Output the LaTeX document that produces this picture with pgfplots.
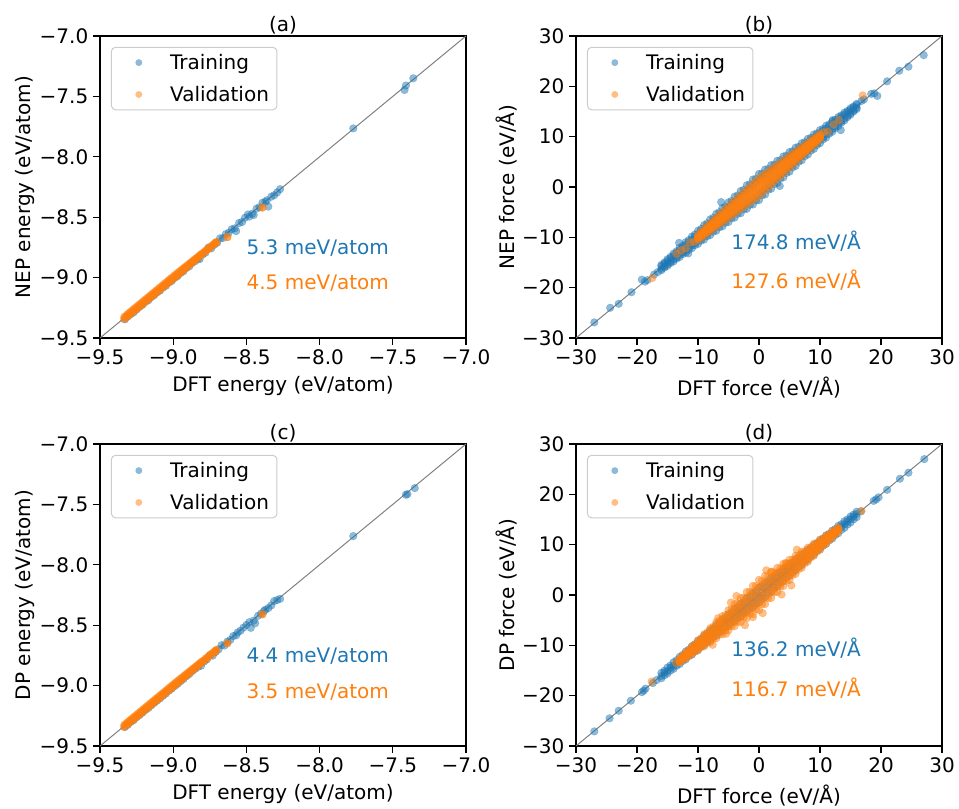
\documentclass[border=0pt]{standalone}
\usepackage{fontspec}
\setmainfont{DejaVu Sans}
\usepackage{pgfplots}
\usepackage{pgfplotstable}
\pgfplotsset{compat=1.18}
\definecolor{tabblue}{RGB}{31,119,180}
\definecolor{taborange}{RGB}{255,127,14}
\newcommand{\ff}{\fontsize{15}{18}\selectfont}

% ---------- Energy (a): training ----------
\pgfplotstableread{
x y
-9.33 -9.345
-9.31 -9.322
-9.29 -9.302
-9.27 -9.288
-9.25 -9.264
-9.23 -9.242
-9.21 -9.226
-9.19 -9.200
-9.17 -9.188
-9.15 -9.162
-9.13 -9.146
-9.11 -9.122
-9.09 -9.108
-9.07 -9.082
-9.05 -9.068
-9.03 -9.040
-9.01 -9.028
-8.99 -9.002
-8.97 -8.988
-8.95 -8.962
-8.93 -8.948
-8.91 -8.920
-8.89 -8.907
-8.87 -8.878
-8.85 -8.864
-8.83 -8.842
-8.82 -8.848
-8.80 -8.810
-8.78 -8.794
-8.76 -8.752
-8.74 -8.758
-8.72 -8.728
-8.70 -8.712
-8.68 -8.675
-8.66 -8.672
-8.64 -8.640
-8.62 -8.628
-8.60 -8.600
-8.58 -8.592
-8.57 -8.615
-8.55 -8.548
-8.53 -8.540
-8.51 -8.505
-8.49 -8.478
-8.48 -8.495
-8.46 -8.470
-8.45 -8.482
-8.43 -8.428
-8.41 -8.418
-8.39 -8.380
-8.37 -8.372
-8.36 -8.360
-8.35 -8.412
-8.33 -8.330
-8.31 -8.318
-8.29 -8.295
-8.27 -8.268
-7.77 -7.765
-7.42 -7.447
-7.41 -7.410
-7.36 -7.350
}\EaTrain

% ---------- Energy (a): validation (rows of points) ----------
\pgfplotstableread{
x y1 y2
-9.335 -9.326 -9.344
-9.325 -9.318 -9.335
-9.315 -9.306 -9.324
-9.305 -9.298 -9.315
-9.295 -9.286 -9.304
-9.285 -9.278 -9.295
-9.275 -9.266 -9.284
-9.265 -9.258 -9.275
-9.255 -9.246 -9.264
-9.245 -9.238 -9.255
-9.235 -9.226 -9.244
-9.225 -9.218 -9.235
-9.215 -9.206 -9.224
-9.205 -9.198 -9.215
-9.195 -9.186 -9.204
-9.185 -9.178 -9.195
-9.175 -9.166 -9.184
-9.165 -9.158 -9.175
-9.155 -9.146 -9.164
-9.145 -9.138 -9.155
-9.135 -9.126 -9.144
-9.125 -9.118 -9.135
-9.115 -9.106 -9.124
-9.105 -9.098 -9.115
-9.095 -9.086 -9.104
-9.085 -9.078 -9.095
-9.075 -9.066 -9.084
-9.065 -9.058 -9.075
-9.055 -9.046 -9.064
-9.045 -9.038 -9.055
-9.035 -9.026 -9.044
-9.025 -9.018 -9.035
-9.015 -9.006 -9.024
-9.005 -8.998 -9.015
-8.995 -8.986 -9.004
-8.985 -8.978 -8.995
-8.975 -8.966 -8.984
-8.965 -8.958 -8.975
-8.955 -8.947 -8.964
-8.945 -8.939 -8.954
-8.935 -8.928 -8.943
-8.925 -8.919 -8.933
-8.915 -8.909 -8.922
-8.905 -8.900 -8.912
-8.895 -8.890 -8.901
-8.885 -8.880 -8.891
-8.875 -8.871 -8.880
-8.865 -8.861 -8.870
-8.855 -8.851 -8.860
-8.845 -8.842 -8.849
-8.835 -8.832 -8.839
-8.825 -8.822 -8.829
-8.815 -8.812 -8.819
-8.805 -8.802 -8.809
-8.790 -8.788 -8.794
-8.775 -8.773 -8.778
-8.760 -8.758 -8.764
-8.745 -8.743 -8.749
-8.730 -8.729 -8.734
-8.715 -8.713 -8.719
-8.705 -8.704 -8.709
-8.630 -8.665 -8.665
-8.390 -8.420 -8.420
}\EaVal

% ---------- Energy (c): training ----------
\pgfplotstableread{
x y
-9.33 -9.343
-9.31 -9.324
-9.29 -9.300
-9.27 -9.286
-9.25 -9.262
-9.23 -9.244
-9.21 -9.224
-9.19 -9.202
-9.17 -9.186
-9.15 -9.164
-9.13 -9.144
-9.11 -9.124
-9.09 -9.106
-9.07 -9.084
-9.05 -9.066
-9.03 -9.042
-9.01 -9.026
-8.99 -9.004
-8.97 -8.986
-8.95 -8.964
-8.93 -8.946
-8.91 -8.922
-8.89 -8.905
-8.87 -8.880
-8.85 -8.862
-8.83 -8.844
-8.81 -8.836
-8.79 -8.802
-8.77 -8.784
-8.75 -8.748
-8.73 -8.752
-8.71 -8.722
-8.69 -8.700
-8.67 -8.665
-8.65 -8.668
-8.63 -8.636
-8.61 -8.622
-8.59 -8.590
-8.57 -8.584
-8.56 -8.560
-8.54 -8.546
-8.52 -8.520
-8.50 -8.498
-8.48 -8.475
-8.47 -8.522
-8.45 -8.462
-8.44 -8.484
-8.42 -8.422
-8.40 -8.404
-8.38 -8.382
-8.37 -8.372
-8.35 -8.358
-8.33 -8.336
-8.31 -8.300
-8.29 -8.292
-8.27 -8.282
-7.77 -7.762
-7.41 -7.420
-7.40 -7.415
-7.35 -7.365
}\EcTrain

% ---------- Energy (c): validation ----------
\pgfplotstableread{
x y1 y2
-9.335 -9.327 -9.343
-9.325 -9.317 -9.334
-9.315 -9.307 -9.323
-9.305 -9.297 -9.314
-9.295 -9.287 -9.303
-9.285 -9.277 -9.294
-9.275 -9.267 -9.283
-9.265 -9.257 -9.274
-9.255 -9.247 -9.263
-9.245 -9.237 -9.254
-9.235 -9.227 -9.243
-9.225 -9.217 -9.234
-9.215 -9.207 -9.223
-9.205 -9.197 -9.214
-9.195 -9.187 -9.203
-9.185 -9.177 -9.194
-9.175 -9.167 -9.183
-9.165 -9.157 -9.174
-9.155 -9.147 -9.163
-9.145 -9.137 -9.154
-9.135 -9.127 -9.143
-9.125 -9.117 -9.134
-9.115 -9.107 -9.123
-9.105 -9.097 -9.114
-9.095 -9.087 -9.103
-9.085 -9.077 -9.094
-9.075 -9.067 -9.083
-9.065 -9.057 -9.074
-9.055 -9.047 -9.063
-9.045 -9.037 -9.054
-9.035 -9.027 -9.043
-9.025 -9.017 -9.034
-9.015 -9.007 -9.023
-9.005 -8.997 -9.014
-8.995 -8.987 -9.003
-8.985 -8.977 -8.994
-8.975 -8.967 -8.983
-8.965 -8.957 -8.974
-8.955 -8.948 -8.963
-8.945 -8.938 -8.953
-8.935 -8.929 -8.942
-8.925 -8.918 -8.932
-8.915 -8.910 -8.921
-8.905 -8.899 -8.911
-8.895 -8.891 -8.900
-8.885 -8.879 -8.890
-8.875 -8.872 -8.879
-8.865 -8.860 -8.869
-8.855 -8.852 -8.859
-8.845 -8.841 -8.848
-8.835 -8.833 -8.838
-8.825 -8.821 -8.828
-8.815 -8.813 -8.818
-8.805 -8.801 -8.808
-8.790 -8.789 -8.793
-8.775 -8.772 -8.777
-8.760 -8.759 -8.763
-8.745 -8.742 -8.748
-8.730 -8.728 -8.733
-8.715 -8.714 -8.718
-8.705 -8.703 -8.708
-8.630 -8.650 -8.650
-8.390 -8.410 -8.410
}\EcVal

% ---------- Force (b): training band ----------
\pgfplotstableread{
x yu yl ym ymm
-16.0 -15.48 -16.52 -15.74 -16.26
-15.5 -15.00 -16.00 -15.21 -15.79
-15.0 -14.35 -15.65 -14.68 -15.32
-14.5 -13.89 -15.11 -14.14 -14.86
-14.0 -13.22 -14.78 -13.61 -14.39
-13.5 -12.78 -14.22 -13.08 -13.92
-13.0 -12.09 -13.91 -12.55 -13.45
-12.5 -11.67 -13.33 -12.01 -12.99
-12.0 -10.96 -13.04 -11.48 -12.52
-11.5 -10.56 -12.44 -10.95 -12.05
-11.0 -9.83 -12.17 -10.42 -11.58
-10.5 -9.45 -11.55 -9.88 -11.12
-10.0 -8.70 -11.30 -9.35 -10.65
-9.5 -8.34 -10.66 -8.82 -10.18
-9.0 -7.57 -10.43 -8.29 -9.71
-8.5 -7.23 -9.77 -7.75 -9.25
-8.0 -6.44 -9.56 -7.22 -8.78
-7.5 -6.12 -8.88 -6.69 -8.31
-7.0 -5.31 -8.69 -6.16 -7.84
-6.5 -5.01 -7.99 -5.62 -7.38
-6.0 -4.18 -7.82 -5.09 -6.91
-5.5 -3.90 -7.10 -4.56 -6.44
-5.0 -3.05 -6.95 -4.03 -5.97
-4.5 -2.79 -6.21 -3.49 -5.51
-4.0 -1.92 -6.08 -2.96 -5.04
-3.5 -1.68 -5.32 -2.43 -4.57
-3.0 -0.79 -5.21 -1.90 -4.10
-2.5 -0.57 -4.43 -1.36 -3.64
-2.0 0.34 -4.34 -0.83 -3.17
-1.5 0.54 -3.54 -0.30 -2.70
-1.0 1.47 -3.47 0.24 -2.24
-0.5 1.65 -2.65 0.77 -1.77
0.0 2.60 -2.60 1.30 -1.30
0.5 2.65 -1.65 1.77 -0.77
1.0 3.47 -1.47 2.24 -0.24
1.5 3.54 -0.54 2.70 0.30
2.0 4.34 -0.34 3.17 0.83
2.5 4.43 0.57 3.64 1.36
3.0 5.21 0.79 4.10 1.90
3.5 5.32 1.68 4.57 2.43
4.0 6.08 1.92 5.04 2.96
4.5 6.21 2.79 5.51 3.49
5.0 6.95 3.05 5.97 4.03
5.5 7.10 3.90 6.44 4.56
6.0 7.82 4.18 6.91 5.09
6.5 7.99 5.01 7.38 5.62
7.0 8.69 5.31 7.84 6.16
7.5 8.88 6.12 8.31 6.69
8.0 9.56 6.44 8.78 7.22
8.5 9.77 7.23 9.25 7.75
9.0 10.43 7.57 9.71 8.29
9.5 10.66 8.34 10.18 8.82
10.0 11.30 8.70 10.65 9.35
10.5 11.55 9.45 11.12 9.88
11.0 12.17 9.83 11.58 10.42
11.5 12.44 10.56 12.05 10.95
12.0 13.04 10.96 12.52 11.48
12.5 13.33 11.67 12.99 12.01
13.0 13.91 12.09 13.45 12.55
13.5 14.22 12.78 13.92 13.08
14.0 14.78 13.22 14.39 13.61
14.5 15.11 13.89 14.86 14.14
15.0 15.65 14.35 15.32 14.68
15.5 16.00 15.00 15.79 15.21
16.0 16.52 15.48 16.26 15.74
}\FbTrain

% ---------- Force (b): training, sparse points ----------
\pgfplotstableread{
x y
-27.0 -26.9
-24.4 -24.0
-23.0 -23.2
-20.9 -20.9
-19.2 -18.4
-18.7 -18.8
-18.3 -18.5
-17.2 -17.4
-16.6 -16.9
-13.1 -11.1
-11.6 -13.2
-6.2 -3.0
3.4 0.2
13.4 11.3
12.1 13.3
16.8 17.1
17.2 17.4
18.4 18.5
18.9 18.6
19.4 18.1
21.0 21.0
23.0 23.1
24.5 23.9
27.0 26.2
}\FbTrainS

% ---------- Force (b): validation band ----------
\pgfplotstableread{
x ya yb yc yd ye
-10.0 -9.50 -9.80 -10.00 -10.25 -10.50
-9.5 -8.94 -9.20 -9.45 -9.78 -10.06
-9.0 -8.38 -8.70 -9.05 -9.31 -9.62
-8.5 -7.82 -8.14 -8.45 -8.84 -9.18
-8.0 -7.26 -7.60 -8.05 -8.37 -8.74
-7.5 -6.70 -7.10 -7.45 -7.90 -8.30
-7.0 -6.14 -6.55 -7.05 -7.43 -7.86
-6.5 -5.58 -6.05 -6.45 -6.96 -7.42
-6.0 -5.02 -5.50 -6.05 -6.49 -6.98
-5.5 -4.46 -5.00 -5.45 -6.02 -6.54
-5.0 -3.90 -4.45 -5.05 -5.55 -6.10
-4.5 -3.34 -3.90 -4.45 -5.08 -5.66
-4.0 -2.78 -3.40 -4.05 -4.61 -5.22
-3.5 -2.22 -2.85 -3.45 -4.14 -4.78
-3.0 -1.66 -2.35 -3.05 -3.67 -4.34
-2.5 -1.10 -1.80 -2.45 -3.20 -3.90
-2.0 -0.54 -1.25 -2.05 -2.73 -3.46
-1.5 0.02 -0.75 -1.45 -2.26 -3.02
-1.0 0.58 -0.20 -1.05 -1.79 -2.58
-0.5 1.14 0.30 -0.45 -1.32 -2.14
0.0 1.70 0.85 -0.05 -0.85 -1.70
0.5 2.14 1.32 0.55 -0.30 -1.14
1.0 2.58 1.79 1.05 0.20 -0.58
1.5 3.02 2.26 1.45 0.75 -0.02
2.0 3.46 2.73 2.05 1.25 0.54
2.5 3.90 3.20 2.45 1.80 1.10
3.0 4.34 3.67 3.05 2.35 1.66
3.5 4.78 4.14 3.45 2.85 2.22
4.0 5.22 4.61 4.05 3.40 2.78
4.5 5.66 5.08 4.45 3.90 3.34
5.0 6.10 5.55 5.05 4.45 3.90
5.5 6.54 6.02 5.45 5.00 4.46
6.0 6.98 6.49 6.05 5.50 5.02
6.5 7.42 6.96 6.45 6.05 5.58
7.0 7.86 7.43 7.05 6.55 6.14
7.5 8.30 7.90 7.45 7.10 6.70
8.0 8.74 8.37 8.05 7.60 7.26
8.5 9.18 8.84 8.45 8.14 7.82
9.0 9.62 9.31 9.05 8.70 8.38
9.5 10.06 9.78 9.45 9.20 8.94
10.0 10.50 10.25 10.00 9.80 9.50
}\FbVal

% ---------- Force (b): validation, sparse points ----------
\pgfplotstableread{
x y
-13.5 -13.3
-12.8 -12.6
-12.0 -12.2
-11.3 -11.0
-10.6 -10.9
10.6 10.9
11.3 11.0
12.2 12.4
13.1 13.3
17.0 18.2
-17.5 -18.1
}\FbValS

% ---------- Force (d): training band ----------
\pgfplotstableread{
x yu yl yc
-16.0 -15.46 -16.54 -16.10
-15.5 -15.04 -15.96 -15.40
-15.0 -14.40 -15.60 -15.10
-14.5 -14.00 -15.00 -14.40
-14.0 -13.34 -14.66 -14.10
-13.5 -12.95 -14.05 -13.40
-13.0 -12.28 -13.72 -13.10
-12.5 -11.90 -13.10 -12.40
-12.0 -11.22 -12.78 -12.10
-11.5 -10.85 -12.15 -11.40
-11.0 -10.16 -11.84 -11.10
-10.5 -9.80 -11.20 -10.40
-10.0 -9.10 -10.90 -10.10
-9.5 -8.76 -10.24 -9.40
-9.0 -8.04 -9.96 -9.10
-8.5 -7.71 -9.29 -8.40
-8.0 -6.98 -9.02 -8.10
-7.5 -6.66 -8.34 -7.40
-7.0 -5.92 -8.08 -7.10
-6.5 -5.61 -7.39 -6.40
-6.0 -4.86 -7.14 -6.10
-5.5 -4.56 -6.44 -5.40
-5.0 -3.80 -6.20 -5.10
-4.5 -3.52 -5.48 -4.40
-4.0 -2.74 -5.26 -4.10
-3.5 -2.47 -4.53 -3.40
-3.0 -1.68 -4.32 -3.10
-2.5 -1.42 -3.58 -2.40
-2.0 -0.62 -3.38 -2.10
-1.5 -0.37 -2.63 -1.40
-1.0 0.44 -2.44 -1.10
-0.5 0.68 -1.68 -0.40
0.0 1.50 -1.50 -0.10
0.5 1.68 -0.68 0.60
1.0 2.44 -0.44 1.10
1.5 2.63 0.37 1.60
2.0 3.38 0.62 2.10
2.5 3.58 1.42 2.60
3.0 4.32 1.68 3.10
3.5 4.53 2.47 3.60
4.0 5.26 2.74 4.10
4.5 5.48 3.52 4.60
5.0 6.20 3.80 5.10
5.5 6.44 4.56 5.60
6.0 7.14 4.86 6.10
6.5 7.39 5.61 6.60
7.0 8.08 5.92 7.10
7.5 8.34 6.66 7.60
8.0 9.02 6.98 8.10
8.5 9.29 7.71 8.60
9.0 9.96 8.04 9.10
9.5 10.24 8.76 9.60
10.0 10.90 9.10 10.10
10.5 11.20 9.80 10.60
11.0 11.84 10.16 11.10
11.5 12.15 10.85 11.60
12.0 12.78 11.22 12.10
12.5 13.10 11.90 12.60
13.0 13.72 12.28 13.10
13.5 14.05 12.95 13.60
14.0 14.66 13.34 14.10
14.5 15.00 14.00 14.60
15.0 15.60 14.40 15.10
15.5 15.96 15.04 15.60
16.0 16.54 15.46 16.10
}\FdTrain

% ---------- Force (d): training, sparse points ----------
\pgfplotstableread{
x y
-27.0 -27.1
-24.5 -24.5
-23.0 -23.0
-21.0 -21.0
-19.2 -19.3
-18.9 -19.0
-18.6 -18.6
-17.4 -17.5
-16.8 -16.9
16.7 16.6
18.8 18.7
19.2 19.0
19.6 19.4
21.0 20.9
23.1 23.1
24.5 24.3
27.1 27.0
}\FdTrainS

% ---------- Force (d): validation band ----------
\pgfplotstableread{
x ya yb yc yd ye
-13.0 -12.60 -12.80 -13.05 -13.20 -13.40
-12.5 -12.10 -12.25 -12.45 -12.75 -12.90
-12.0 -11.40 -11.70 -12.05 -12.30 -12.60
-11.5 -10.94 -11.15 -11.45 -11.85 -12.06
-11.0 -10.20 -10.60 -11.05 -11.40 -11.80
-10.5 -9.78 -10.05 -10.45 -10.95 -11.22
-10.0 -9.00 -9.50 -10.05 -10.50 -11.00
-9.5 -8.62 -8.95 -9.45 -10.05 -10.38
-9.0 -7.80 -8.40 -9.05 -9.60 -10.20
-8.5 -7.46 -7.85 -8.45 -9.15 -9.54
-8.0 -6.60 -7.30 -8.05 -8.70 -9.40
-7.5 -6.30 -6.75 -7.45 -8.25 -8.70
-7.0 -5.40 -6.20 -7.05 -7.80 -8.60
-6.5 -5.14 -5.65 -6.45 -7.35 -7.86
-6.0 -4.20 -5.10 -6.05 -6.90 -7.80
-5.5 -3.98 -4.55 -5.45 -6.45 -7.02
-5.0 -3.00 -4.00 -5.05 -6.00 -7.00
-4.5 -2.82 -3.45 -4.45 -5.55 -6.18
-4.0 -1.80 -2.90 -4.05 -5.10 -6.20
-3.5 -1.66 -2.35 -3.45 -4.65 -5.34
-3.0 -0.60 -1.80 -3.05 -4.20 -5.40
-2.5 -0.50 -1.25 -2.45 -3.75 -4.50
-2.0 0.60 -0.70 -2.05 -3.30 -4.60
-1.5 0.66 -0.15 -1.45 -2.85 -3.66
-1.0 1.80 0.40 -1.05 -2.40 -3.80
-0.5 1.82 0.95 -0.45 -1.95 -2.82
0.0 3.00 1.50 -0.05 -1.50 -3.00
0.5 2.82 1.95 0.55 -0.95 -1.82
1.0 3.80 2.40 1.05 -0.40 -1.80
1.5 3.66 2.85 1.45 0.15 -0.66
2.0 4.60 3.30 2.05 0.70 -0.60
2.5 4.50 3.75 2.45 1.25 0.50
3.0 5.40 4.20 3.05 1.80 0.60
3.5 5.34 4.65 3.45 2.35 1.66
4.0 6.20 5.10 4.05 2.90 1.80
4.5 6.18 5.55 4.45 3.45 2.82
5.0 7.00 6.00 5.05 4.00 3.00
5.5 7.02 6.45 5.45 4.55 3.98
6.0 7.80 6.90 6.05 5.10 4.20
6.5 7.86 7.35 6.45 5.65 5.14
7.0 8.60 7.80 7.05 6.20 5.40
7.5 8.70 8.25 7.45 6.75 6.30
8.0 9.40 8.70 8.05 7.30 6.60
8.5 9.54 9.15 8.45 7.85 7.46
9.0 10.20 9.60 9.05 8.40 7.80
9.5 10.38 10.05 9.45 8.95 8.62
10.0 11.00 10.50 10.05 9.50 9.00
10.5 11.22 10.95 10.45 10.05 9.78
11.0 11.80 11.40 11.05 10.60 10.20
11.5 12.06 11.85 11.45 11.15 10.94
12.0 12.60 12.30 12.05 11.70 11.40
12.5 12.90 12.75 12.45 12.25 12.10
13.0 13.40 13.20 13.05 12.80 12.60
}\FdVal

% ---------- Force (d): validation, sparse points ----------
\pgfplotstableread{
x y
-3.7 -0.2
3.7 0.1
5.3 1.9
4.4 6.4
2.0 4.6
-5.4 -7.7
-6.7 -4.6
-1.0 -4.4
1.2 4.9
-2.3 -6.0
6.2 9.0
-7.6 -9.9
0.6 -3.6
-4.6 -1.5
-13.6 -13.5
-17.6 -17.2
11.8 12.1
16.8 16.7
}\FdValS

\pgfplotsset{
  parity/.style={
    scale only axis, width=274.5pt, height=226.5pt,
    anchor=south west,
    axis line style={line width=0.9pt},
    every tick/.style={line width=0.9pt, black},
    tick align=outside, major tick length=5.25pt,
    xtick pos=bottom, ytick pos=left,
    tick label style={font=\ff},
    label style={font=\ff},
    xlabel shift=2pt, ylabel shift=-3pt,
    title style={font=\ff, yshift=-8pt},
    clip=true,
    legend style={at={(0.03,0.964)}, anchor=north west,
      draw=black!20, rounded corners=3pt, line width=0.75pt,
      font=\ff, inner xsep=4pt, inner ysep=3pt, row sep=7pt,
      column sep=0pt},
    legend cell align=left,
  },
  tr/.style={only marks, mark=*, mark size=2.9pt,
    mark options={draw=tabblue, fill=tabblue, opacity=0.5, line width=0.2pt}},
  va/.style={only marks, mark=*, mark size=2.9pt,
    mark options={draw=taborange, fill=taborange, opacity=0.5, line width=0.2pt}},
  trleg/.style={legend image code/.code={
      \path[draw=none] (0pt,-3pt) rectangle (38pt,3pt);
      \path[draw=none, fill=tabblue, fill opacity=0.5] (16.5pt,0pt) circle[radius=2.6pt];}},
  valeg/.style={legend image code/.code={
      \path[draw=none] (0pt,-3pt) rectangle (38pt,3pt);
      \path[draw=none, fill=taborange, fill opacity=0.5] (16.5pt,0pt) circle[radius=2.6pt];}},
  diag/.style={gray, line width=0.75pt, no marks, forget plot},
  energy/.style={parity, xmin=-9.5, xmax=-7, ymin=-9.5, ymax=-7,
    xtick={-9.5,-9,-8.5,-8,-7.5,-7}, ytick={-9.5,-9,-8.5,-8,-7.5,-7},
    xticklabels={−9.5,−9.0,−8.5,−8.0,−7.5,−7.0},
    yticklabels={−9.5,−9.0,−8.5,−8.0,−7.5,−7.0},
    xlabel={DFT energy (eV/atom)}},
  force/.style={parity, xmin=-30, xmax=30, ymin=-30, ymax=30,
    xtick={-30,-20,-10,0,10,20,30}, ytick={-30,-20,-10,0,10,20,30},
    xticklabels={−30,−20,−10,0,10,20,30},
    yticklabels={−30,−20,−10,0,10,20,30},
    xlabel={DFT force (eV/Å)}},
}

\begin{document}
\begin{tikzpicture}
\path[use as bounding box] (0,0) rectangle (719.25pt,606.75pt);

% (a)
\begin{axis}[energy, at={(75pt,353.25pt)}, title={(a)}, ylabel={NEP energy (eV/atom)}]
\addplot[tr, trleg] table {\EaTrain};
\addlegendentry{Training}
\addplot[va, valeg] table[y=y1] {\EaVal};
\addlegendentry{Validation}
\addplot[va, forget plot] table[y=y2] {\EaVal};
\addplot[diag] coordinates {(-9.5,-9.5) (-7,-7)};
\node[anchor=west, inner sep=0pt, text=tabblue, font=\ff] at (rel axis cs:0.40,0.298) {5.3 meV/atom};
\node[anchor=west, inner sep=0pt, text=taborange, font=\ff] at (rel axis cs:0.40,0.182) {4.5 meV/atom};
\end{axis}

% (b)
\begin{axis}[force, at={(432pt,353.25pt)}, title={(b)}, ylabel={NEP force (eV/Å)}]
\addplot[tr, trleg] table[y=yu] {\FbTrain};
\addlegendentry{Training}
\addplot[tr, forget plot] table[y=yl] {\FbTrain};
\addplot[tr, forget plot] table[y=ym] {\FbTrain};
\addplot[tr, forget plot] table[y=ymm] {\FbTrain};
\addplot[tr, forget plot] table {\FbTrainS};
\addplot[va, valeg] table[y=ya] {\FbVal};
\addlegendentry{Validation}
\addplot[va, forget plot] table[y=yb] {\FbVal};
\addplot[va, forget plot] table[y=yc] {\FbVal};
\addplot[va, forget plot] table[y=yd] {\FbVal};
\addplot[va, forget plot] table[y=ye] {\FbVal};
\addplot[va, forget plot] table {\FbValS};
\addplot[diag] coordinates {(-30,-30) (30,30)};
\node[anchor=west, inner sep=0pt, text=tabblue, font=\ff] at (rel axis cs:0.424,0.321) {174.8 meV/Å};
\node[anchor=west, inner sep=0pt, text=taborange, font=\ff] at (rel axis cs:0.424,0.19) {127.6 meV/Å};
\end{axis}

% (c)
\begin{axis}[energy, at={(75pt,47.25pt)}, title={(c)}, ylabel={DP energy (eV/atom)}]
\addplot[tr, trleg] table {\EcTrain};
\addlegendentry{Training}
\addplot[va, valeg] table[y=y1] {\EcVal};
\addlegendentry{Validation}
\addplot[va, forget plot] table[y=y2] {\EcVal};
\addplot[diag] coordinates {(-9.5,-9.5) (-7,-7)};
\node[anchor=west, inner sep=0pt, text=tabblue, font=\ff] at (rel axis cs:0.40,0.298) {4.4 meV/atom};
\node[anchor=west, inner sep=0pt, text=taborange, font=\ff] at (rel axis cs:0.40,0.18) {3.5 meV/atom};
\end{axis}

% (d)
\begin{axis}[force, at={(432pt,47.25pt)}, title={(d)}, ylabel={DP force (eV/Å)}]
\addplot[tr, trleg] table[y=yu] {\FdTrain};
\addlegendentry{Training}
\addplot[tr, forget plot] table[y=yl] {\FdTrain};
\addplot[tr, forget plot] table[y=yc] {\FdTrain};
\addplot[tr, forget plot] table {\FdTrainS};
\addplot[va, valeg] table[y=ya] {\FdVal};
\addlegendentry{Validation}
\addplot[va, forget plot] table[y=yb] {\FdVal};
\addplot[va, forget plot] table[y=yc] {\FdVal};
\addplot[va, forget plot] table[y=yd] {\FdVal};
\addplot[va, forget plot] table[y=ye] {\FdVal};
\addplot[va, forget plot] table {\FdValS};
\addplot[diag] coordinates {(-30,-30) (30,30)};
\node[anchor=west, inner sep=0pt, text=tabblue, font=\ff] at (rel axis cs:0.424,0.323) {136.2 meV/Å};
\node[anchor=west, inner sep=0pt, text=taborange, font=\ff] at (rel axis cs:0.424,0.19) {116.7 meV/Å};
\end{axis}
\end{tikzpicture}
\end{document}
